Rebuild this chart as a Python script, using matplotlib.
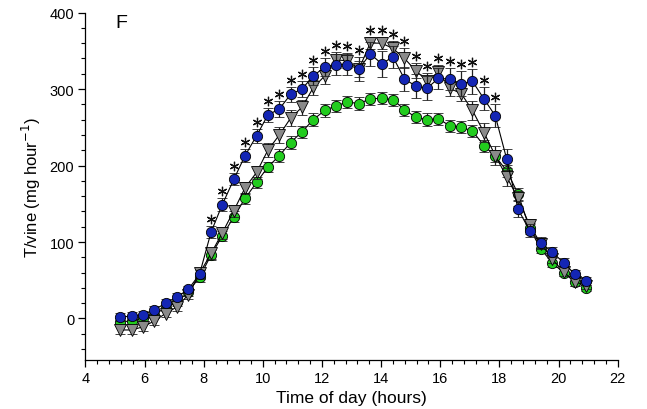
import matplotlib
matplotlib.use("Agg")
import matplotlib.pyplot as plt
import numpy as np
from matplotlib.transforms import offset_copy
from matplotlib.ticker import MultipleLocator

plt.rcParams['font.family'] = ['Liberation Sans', 'DejaVu Sans']

# time of day (hours)
hours = [5.17, 5.56, 5.94, 6.32, 6.71, 7.09, 7.48, 7.86, 8.25, 8.63,
         9.02, 9.40, 9.79, 10.17, 10.56, 10.94, 11.32, 11.71, 12.09, 12.48,
         12.86, 13.25, 13.63, 14.02, 14.40, 14.79, 15.17, 15.55, 15.94, 16.32,
         16.71, 17.09, 17.48, 17.86, 18.25, 18.63, 19.02, 19.40, 19.78, 20.17,
         20.55, 20.94]

blue_vals = [2, 3, 5, 11, 20, 28, 38, 58, 113, 149,
             182, 213, 239, 266, 274, 293, 300, 317, 329, 332,
             332, 326, 346, 333, 342, 313, 304, 301, 314, 313,
             307, 310, 287, 265, 208, 143, 115, 99, 87, 73,
             58, 49]
blue_err = [5, 5, 5, 5, 5, 5, 5, 6, 8, 8,
            8, 8, 9, 9, 10, 10, 10, 12, 12, 14,
            14, 16, 16, 17, 14, 16, 16, 16, 14, 14,
            16, 16, 15, 15, 14, 10, 8, 7, 6, 6,
            5, 5]

green_vals = [-4, -3.5, 0, 5, 14, 21, 35, 54, 83, 108,
              133, 157, 178, 198, 213, 230, 244, 260, 272, 278,
              283, 281, 287, 288, 286, 273, 263, 260, 261, 252,
              250, 245, 226, 212, 193, 163, 118, 91, 73, 60,
              48, 40]
green_err = [4, 4, 4, 4, 4, 5, 5, 6, 6, 7,
             7, 7, 7, 7, 8, 8, 8, 8, 8, 8,
             8, 8, 8, 8, 8, 8, 8, 8, 8, 8,
             8, 8, 8, 8, 8, 8, 7, 6, 6, 5,
             5, 4]

gray_vals = [-15, -15, -11, -3.5, 6.5, 15, 31, 59, 85, 112,
             141, 171, 191, 220, 240, 262, 276, 302, 317, 338,
             337, 326, 360, 360, 353, 340, 324, 311, 322, 301,
             294, 272, 243, 213, 185, 157, 122, 98, 78, 61,
             48, 43]
gray_err = [5, 5, 5, 5, 5, 5, 6, 6, 7, 8,
            8, 8, 9, 9, 10, 10, 10, 10, 10, 10,
            10, 10, 8, 8, 10, 13, 10, 10, 10, 10,
            10, 12, 12, 12, 12, 10, 8, 7, 6, 6,
            5, 5]

star_idx = list(range(8, 34))

x_ticks = [4, 6, 8, 10, 12, 14, 16, 18, 20, 22]
y_ticks = [0, 100, 200, 300, 400]

fig = plt.figure(figsize=(6.47, 4.10), dpi=100)
ax = fig.add_axes([0.132, 0.12, 0.8227, 0.847])

common = dict(color='black', lw=0.8, ecolor='#222222', elinewidth=0.9,
              capsize=3.6, capthick=0.9, markeredgecolor='black',
              markeredgewidth=0.6)
ax.errorbar(hours, green_vals, yerr=green_err, marker='o', ms=7.4,
            markerfacecolor='#22cc1e', zorder=2, **common)
ax.errorbar(hours, gray_vals, yerr=gray_err, marker='v', ms=8.0,
            markerfacecolor='#8a8a8a', zorder=3, **common)
ax.errorbar(hours, blue_vals, yerr=blue_err, marker='o', ms=7.4,
            markerfacecolor='#1426b4', zorder=4, **common)

# significance stars above the higher of blue / gray error bars
tops = [max(blue_vals[i] + blue_err[i], gray_vals[i] + gray_err[i]) for i in star_idx]
tr = offset_copy(ax.transData, fig=fig, x=0, y=7, units='dots')
ax.plot([hours[i] for i in star_idx], tops, linestyle='none',
        marker=(6, 2, 0), ms=6.8, mew=0.9, color='#111111', transform=tr,
        zorder=5, clip_on=False)

ax.set_xlim(4, 22)
ax.set_ylim(-54, 400)
ax.set_xticks(x_ticks)
ax.set_yticks(y_ticks)
ax.xaxis.set_minor_locator(MultipleLocator(0.4))
ax.yaxis.set_minor_locator(MultipleLocator(20))
ax.tick_params(axis='both', which='major', direction='out', length=5,
               width=0.9, labelsize=10.5, pad=3)
ax.tick_params(axis='both', which='minor', direction='out', length=2.8,
               width=0.8)
for s in ['top', 'right']:
    ax.spines[s].set_visible(False)
for s in ['left', 'bottom']:
    ax.spines[s].set_linewidth(0.9)

ax.set_xlabel('Time of day (hours)', fontsize=12.5, labelpad=4)
ax.set_ylabel('T/vine (mg hour$^{-1}$)', fontsize=12, labelpad=5)
ax.text(0.056, 0.995, 'F', transform=ax.transAxes, fontsize=14,
        va='top', ha='left')

fig.savefig('out.png', dpi=100)
